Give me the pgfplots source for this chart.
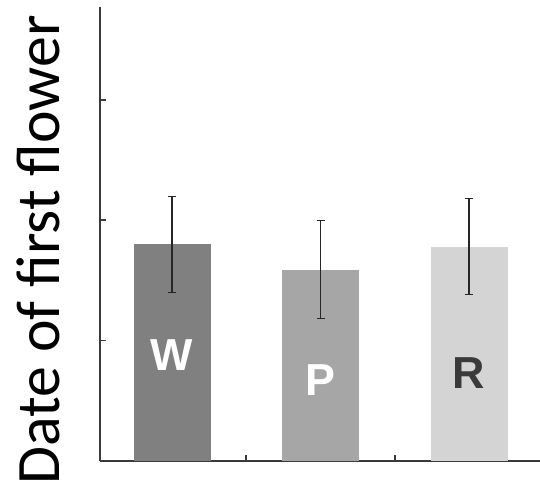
\documentclass[border=0pt]{standalone}
\usepackage{pgfplots}
\pgfplotsset{compat=1.18}
\usepackage{fontspec}
\setmainfont{Carlito}
\newfontfamily\arialbold[BoldFont={Liberation Sans Bold}]{Liberation Sans}
\definecolor{axcol}{HTML}{3A3A3A}
\definecolor{cW}{HTML}{808080}
\definecolor{cP}{HTML}{A6A6A6}
\definecolor{cR}{HTML}{D4D4D4}
\begin{document}
\begin{tikzpicture}
\begin{axis}[
  name=ax,
  scale only axis,
  width=440bp, height=454bp,
  xmin=0.515, xmax=3.478,
  ymin=0, ymax=3.77,
  axis x line*=bottom, axis y line*=left,
  axis line style={axcol, line width=1.8pt},
  xtick={1.5,2.5}, ytick={1,2,3},
  xticklabels={}, yticklabels={},
  ytick align=inside,
  major tick length=6bp,
  major x tick style={axcol, line width=1.6pt, yshift=6bp},
  major y tick style={axcol, line width=1.6pt},
  ybar, bar width=77bp, bar shift=0pt,
  ylabel={\fontsize{62}{70}\selectfont Date of first flower},
  ylabel style={at={(axis description cs:-0.091,0.465)}, anchor=base, inner sep=0pt},
  clip=false,
]
\addplot[fill=cW, draw=none, error bars/.cd, y dir=both, y explicit,
  error bar style={black!85, line width=1.1pt}, error mark options={rotate=90, mark size=4bp, black!85, line width=1.1pt}]
  coordinates {(1,1.80) +- (0,0.40)};
\addplot[fill=cP, draw=none, error bars/.cd, y dir=both, y explicit,
  error bar style={black!85, line width=1.1pt}, error mark options={rotate=90, mark size=4bp, black!85, line width=1.1pt}]
  coordinates {(2,1.59) +- (0,0.41)};
\addplot[fill=cR, draw=none, error bars/.cd, y dir=both, y explicit,
  error bar style={black!85, line width=1.1pt}, error mark options={rotate=90, mark size=4bp, black!85, line width=1.1pt}]
  coordinates {(3,1.78) +- (0,0.40)};
\node[text=white, font=\arialbold\bfseries\fontsize{45}{50}\selectfont] at (axis cs:1,0.88) {W};
\node[text=white, font=\arialbold\bfseries\fontsize{45}{50}\selectfont] at (axis cs:2,0.67) {P};
\node[text=axcol, font=\arialbold\bfseries\fontsize{45}{50}\selectfont] at (axis cs:3,0.73) {R};
\end{axis}
\pgfresetboundingbox
\path ([xshift=-100bp,yshift=-27bp]ax.south west) rectangle ([yshift=7bp]ax.north east);
\end{tikzpicture}
\end{document}
